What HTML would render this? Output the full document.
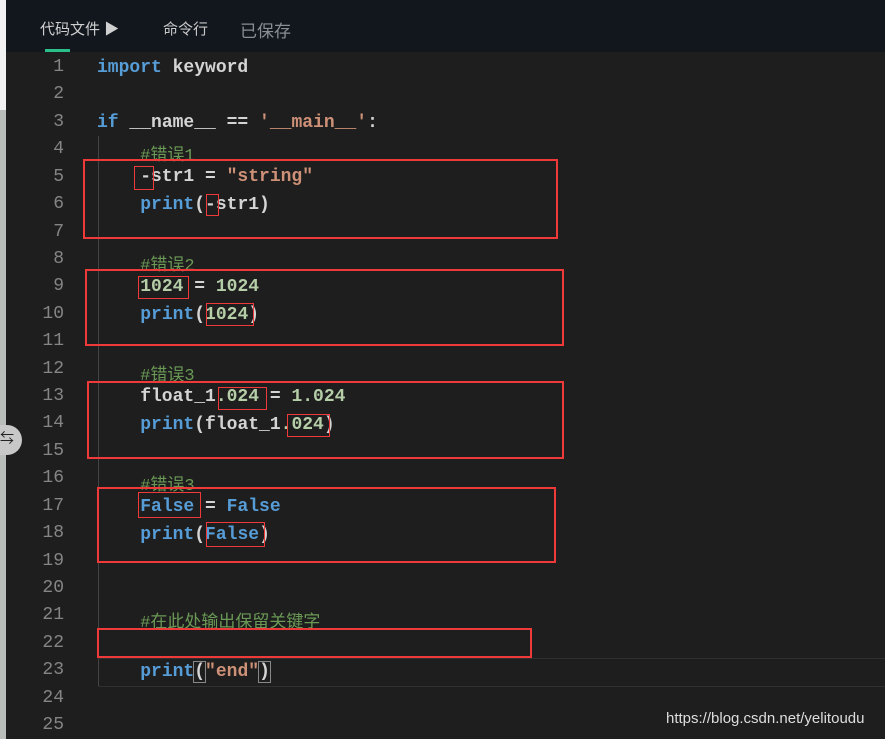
<!DOCTYPE html>
<html><head><meta charset="utf-8"><style>
body{margin:0;width:885px;height:739px;overflow:hidden;background:#1e1e1e;position:relative;font-family:"Liberation Mono","Noto Sans CJK SC",monospace;}
.hdr{position:absolute;left:0;top:0;width:885px;height:52px;background:#12161d;}
.strip{position:absolute;left:0;top:0;width:6px;height:739px;background:#b9bdb9;}
.strip2{position:absolute;left:0;top:0;width:6px;height:110px;background:#f2f2f2;}
.tab{position:absolute;top:18px;font-family:"Liberation Sans","Noto Sans CJK SC",sans-serif;font-size:15px;}
.ln{position:absolute;left:20px;width:44px;text-align:right;color:#858585;font-size:18px;}
.c{position:absolute;left:97px;font-size:18px;color:#d4d4d4;white-space:pre;font-weight:bold;}
.k{color:#569cd6}.s{color:#ce9178}.n{color:#b5cea8}.m{color:#6a9955;font-weight:normal;font-size:17px}
.r{position:absolute;border:2px solid #f03a3a;box-sizing:border-box;}
.rs{position:absolute;border:1px solid #f03a3a;box-sizing:border-box;}
</style></head><body>
<div class="hdr"></div>
<div class="strip"></div><div class="strip2"></div>
<div style="position:absolute;left:0;top:425px;width:22px;height:30px;border-radius:0 15px 15px 0;background:#c8c8c8;color:#222;font-size:14px;line-height:30px;">⇆</div>
<div class="tab" style="left:40px;color:#d0d0d0;">代码文件 ▶</div>
<div class="tab" style="left:163px;color:#c8c8c8;">命令行</div>
<div class="tab" style="left:240px;color:#8a8f96;font-size:17px;top:17px;">已保存</div>
<div style="position:absolute;left:45px;top:49px;width:25px;height:3px;background:#2bbf8a;"></div>
<div style="position:absolute;left:98px;top:136px;width:1px;height:550px;background:#444;"></div>
<div style="position:absolute;left:98px;top:658px;width:787px;height:27px;border-top:1px solid #303030;border-bottom:1px solid #303030;"></div>
<div id="lines"></div>
<div class="c" style="top:58px"><span class="k">import</span> keyword</div>
<div class="c" style="top:113px"><span class="k">if</span> __name__ == <span class="s">'__main__'</span>:</div>
<div class="c" style="top:140px">    <span class="m">#错误1</span></div>
<div class="c" style="top:167px">    -str1 = <span class="s">"string"</span></div>
<div class="c" style="top:195px">    <span class="k">print</span>(-str1)</div>
<div class="c" style="top:250px">    <span class="m">#错误2</span></div>
<div class="c" style="top:277px">    <span class="n">1024</span> = <span class="n">1024</span></div>
<div class="c" style="top:305px">    <span class="k">print</span>(<span class="n">1024</span>)</div>
<div class="c" style="top:360px">    <span class="m">#错误3</span></div>
<div class="c" style="top:387px">    float_1<span class="n">.024</span> = <span class="n">1.024</span></div>
<div class="c" style="top:415px">    <span class="k">print</span>(float_1<span class="n">.024</span>)</div>
<div class="c" style="top:470px">    <span class="m">#错误3</span></div>
<div class="c" style="top:497px">    <span class="k">False</span> = <span class="k">False</span></div>
<div class="c" style="top:525px">    <span class="k">print</span>(<span class="k">False</span>)</div>
<div class="c" style="top:607px">    <span class="m">#在此处输出保留关键字</span></div>
<div class="c" style="top:662px">    <span class="k">print</span><span style="outline:1px solid #888">(</span><span class="s">"end"</span><span style="outline:1px solid #888">)</span></div>
<div class="r" style="left:83px;top:159px;width:475px;height:80px"></div>
<div class="r" style="left:85px;top:269px;width:479px;height:77px"></div>
<div class="r" style="left:87px;top:381px;width:477px;height:78px"></div>
<div class="r" style="left:97px;top:487px;width:459px;height:76px"></div>
<div class="r" style="left:97px;top:628px;width:435px;height:30px"></div>
<div class="rs" style="left:134px;top:166px;width:20px;height:24px"></div>
<div class="rs" style="left:206px;top:194px;width:13px;height:22px"></div>
<div class="rs" style="left:138px;top:276px;width:51px;height:23px"></div>
<div class="rs" style="left:206px;top:303px;width:48px;height:23px"></div>
<div class="rs" style="left:218px;top:387px;width:49px;height:23px"></div>
<div class="rs" style="left:287px;top:414px;width:43px;height:23px"></div>
<div class="rs" style="left:138px;top:492px;width:63px;height:26px"></div>
<div class="rs" style="left:206px;top:522px;width:59px;height:25px"></div>
<div style="position:absolute;left:666px;top:710px;color:#ddd;font-family:'Liberation Sans',sans-serif;font-size:15px;">https://blog.csdn.net/yelitoudu</div>
<script>
var h='';for(var i=1;i<=25;i++){h+='<div class="ln" style="top:'+(57+(i-1)*27.42)+'px">'+i+'</div>';}
document.getElementById('lines').innerHTML=h;
</script>
</body></html>
